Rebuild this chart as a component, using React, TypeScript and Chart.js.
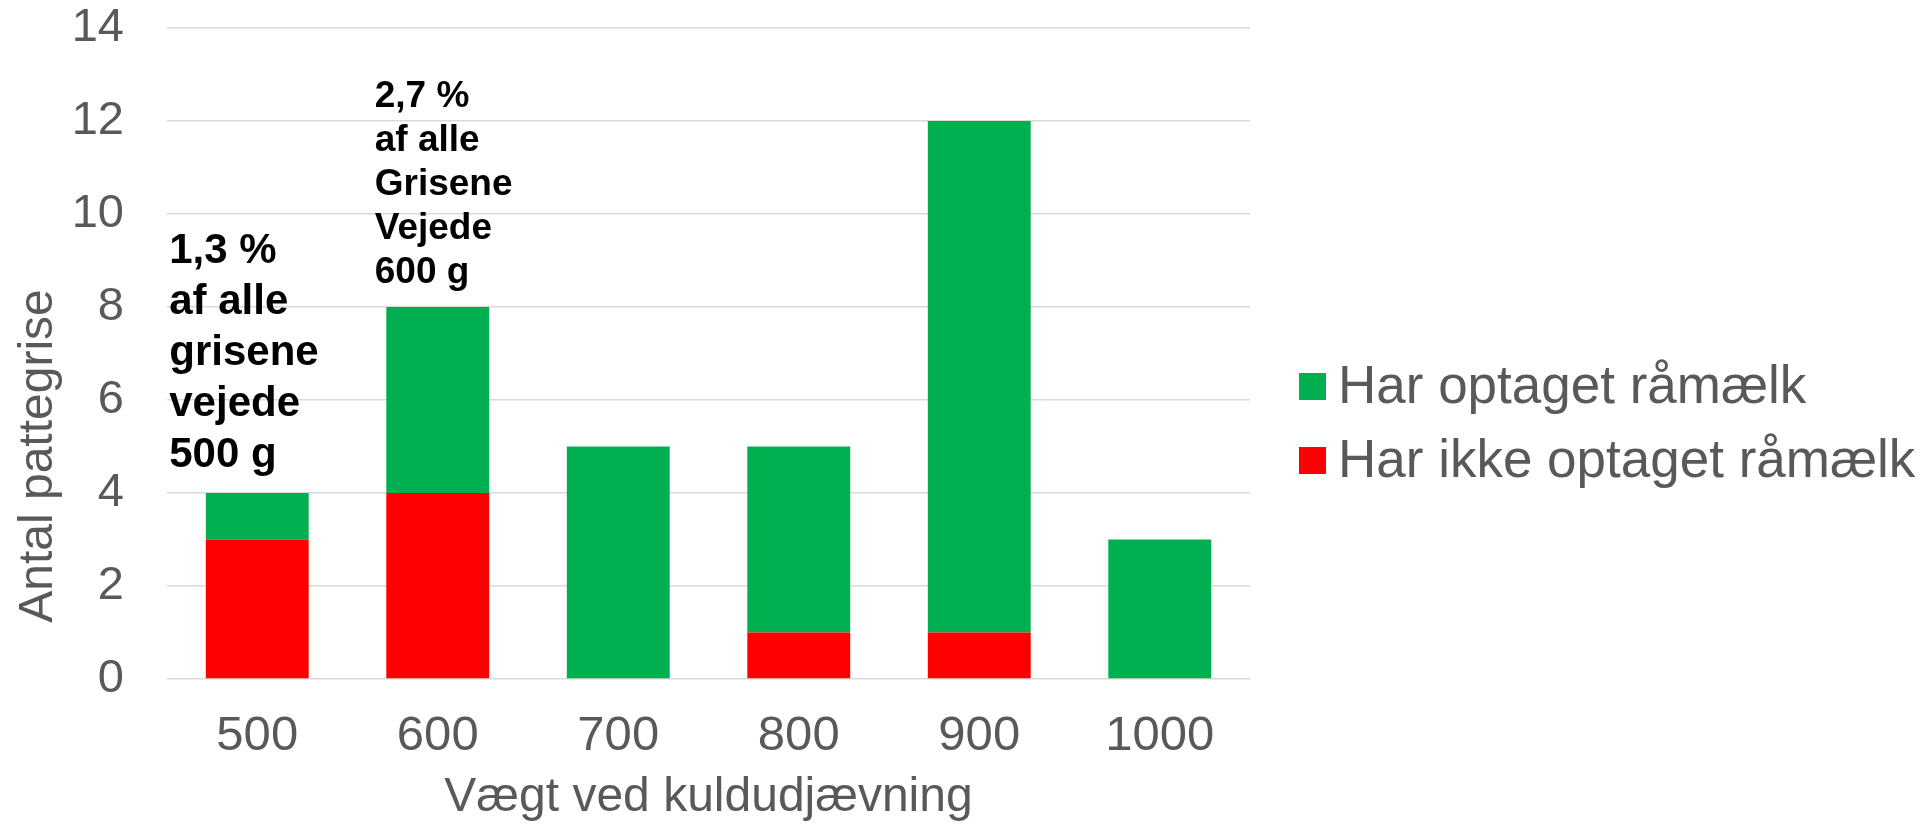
import React, { useEffect, useRef } from 'react';
import { Chart, registerables } from 'chart.js';

Chart.register(...registerables);

const CATEGORIES = ['500', '600', '700', '800', '900', '1000'];
const NOT_ABSORBED = [3, 4, 0, 1, 1, 0];
const ABSORBED = [1, 4, 5, 4, 11, 3];
const SERIES_LABELS = ['Har ikke optaget råmælk', 'Har optaget råmælk'];
const SERIES_COLORS = ['#FF0000', '#00B050'];
const Y_TICKS = [0, 2, 4, 6, 8, 10, 12, 14];
const Y_TITLE = 'Antal pattegrise';
const X_TITLE = 'Vægt ved kuldudjævning';
const NOTE_500 = ['1,3 %', 'af alle', 'grisene', 'vejede', '500 g'];
const NOTE_600 = ['2,7 %', 'af alle', 'Grisene', 'Vejede', '600 g'];

const FONT = '"Liberation Sans", Arial, sans-serif';
const GREY = '#595959';

const notesPlugin = {
  id: 'notes',
  afterDatasetsDraw(chart: any) {
    const ctx = chart.ctx;
    const xs = chart.scales.x;
    const notes = [
      { index: 0, lines: NOTE_500, size: 42, lh: 51, dx: -88, top: 263 },
      { index: 1, lines: NOTE_600, size: 37, lh: 44, dx: -63, top: 107 },
    ];
    ctx.save();
    ctx.fillStyle = '#000000';
    ctx.textAlign = 'left';
    ctx.textBaseline = 'alphabetic';
    notes.forEach((n) => {
      ctx.font = `bold ${n.size}px ${FONT}`;
      const x = xs.getPixelForValue(n.index) + n.dx;
      n.lines.forEach((line, k) => ctx.fillText(line, x, n.top + k * n.lh));
    });
    ctx.restore();
  },
};

const yTitlePlugin = {
  id: 'yTitle',
  afterDraw(chart: any) {
    const ctx = chart.ctx;
    ctx.save();
    ctx.font = `48px ${FONT}`;
    ctx.fillStyle = GREY;
    ctx.textAlign = 'center';
    ctx.textBaseline = 'alphabetic';
    ctx.translate(52, 456);
    ctx.rotate(-Math.PI / 2);
    ctx.fillText(Y_TITLE, 0, 0);
    ctx.restore();
  },
};

const legendPlugin = {
  id: 'sideLegend',
  afterDraw(chart: any) {
    const ctx = chart.ctx;
    const items = chart.data.datasets
      .map((d: any) => ({ label: d.label, color: d.backgroundColor }))
      .reverse();
    const left = chart.chartArea.right + 49;
    const top0 = 373;
    const pitch = 74;
    const box = 27;
    ctx.save();
    ctx.font = `53px ${FONT}`;
    ctx.textAlign = 'left';
    ctx.textBaseline = 'alphabetic';
    items.forEach((it: any, k: number) => {
      const y = top0 + k * pitch;
      ctx.fillStyle = it.color;
      ctx.fillRect(left, y, box, box);
      ctx.fillStyle = GREY;
      ctx.fillText(it.label, left + box + 12, y + 30);
    });
    ctx.restore();
  },
};

export default function App() {
  const ref = useRef<HTMLCanvasElement | null>(null);

  useEffect(() => {
    if (!ref.current) return;
    const chart = new Chart(ref.current, {
      type: 'bar',
      data: {
        labels: CATEGORIES,
        datasets: [
          {
            label: SERIES_LABELS[0],
            data: NOT_ABSORBED,
            backgroundColor: SERIES_COLORS[0],
            borderWidth: 0,
          },
          {
            label: SERIES_LABELS[1],
            data: ABSORBED,
            backgroundColor: SERIES_COLORS[1],
            borderWidth: 0,
          },
        ],
      },
      options: {
        animation: false,
        responsive: true,
        maintainAspectRatio: false,
        devicePixelRatio: 1,
        layout: { padding: { left: 0, top: 28, right: 681, bottom: 0 } },
        datasets: { bar: { categoryPercentage: 1, barPercentage: 0.57 } },
        plugins: {
          legend: { display: false },
          tooltip: { enabled: false },
          title: { display: false },
        },
        scales: {
          x: {
            stacked: true,
            grid: { display: false, drawTicks: false },
            border: { display: false },
            ticks: { color: GREY, font: { family: FONT, size: 49 }, padding: 28 },
            title: {
              display: true,
              text: X_TITLE,
              color: GREY,
              font: { family: FONT, size: 48, lineHeight: 1.08 },
              padding: { top: 0, bottom: 0 },
            },
            afterFit: (s: any) => {
              s.height = 145;
            },
          },
          y: {
            stacked: true,
            min: 0,
            max: 14,
            grid: { color: '#D9D9D9', lineWidth: 1.5, drawTicks: false },
            border: { display: false },
            ticks: { color: GREY, font: { family: FONT, size: 47 }, padding: 43, stepSize: 2 },
            afterBuildTicks: (s: any) => {
              s.ticks = Y_TICKS.map((v) => ({ value: v }));
            },
            afterFit: (s: any) => {
              s.width = 167;
              s.paddingTop = 0;
              s.paddingBottom = 0;
            },
          },
        },
      },
      plugins: [notesPlugin, yTitlePlugin, legendPlugin],
    });
    return () => chart.destroy();
  }, []);

  return (
    <div style={{ position: 'fixed', left: 0, top: 0, width: '1931px', height: '824px', background: '#fff' }}>
      <canvas ref={ref} />
    </div>
  );
}
